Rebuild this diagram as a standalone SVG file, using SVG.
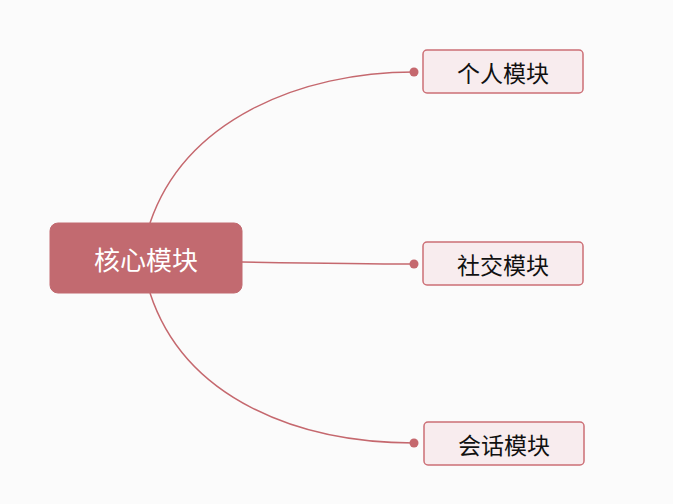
<svg xmlns="http://www.w3.org/2000/svg" width="673" height="504" viewBox="0 0 673 504">
<style>
.bg{fill:#fbfbfb}
.edge{fill:none;stroke:#c5686e;stroke-width:1.5}
.dot{fill:#c5686e}
.root{fill:#c26a70;stroke:#c26a70}
.child{fill:#f8ecee;stroke:#cc6f76;stroke-width:1.5}
text{font-family:"Noto Sans CJK SC","Noto Sans",sans-serif;text-anchor:middle;dominant-baseline:central}
.rt{fill:#ffffff;font-size:26px}
.ct{fill:#111111;font-size:23px}
</style>
<rect class="bg" x="0" y="0" width="673" height="504"/>
<g id="connectors">
<path class="edge" d="M150,223 C185,120 300,72 414,72"/>
<path class="edge" d="M242,262 C300,263 360,264 414,264"/>
<path class="edge" d="M150,293 C185,400 300,443 414,443"/>
<circle class="dot" cx="414" cy="72" r="4.5"/>
<circle class="dot" cx="414" cy="264" r="4.5"/>
<circle class="dot" cx="414" cy="443" r="4.5"/>
</g>
<g id="core">
<rect class="root" x="50" y="223" width="192" height="70" rx="8"/>
<text class="rt" x="146" y="258">核心模块</text>
</g>
<g id="personal">
<rect class="child" x="423" y="50" width="160" height="43" rx="4"/>
<text class="ct" x="503" y="71.5">个人模块</text>
</g>
<g id="social">
<rect class="child" x="423" y="242" width="160" height="43" rx="4"/>
<text class="ct" x="503" y="263.5">社交模块</text>
</g>
<g id="session">
<rect class="child" x="424" y="422" width="160" height="43" rx="4"/>
<text class="ct" x="504" y="443.5">会话模块</text>
</g>
</svg>
